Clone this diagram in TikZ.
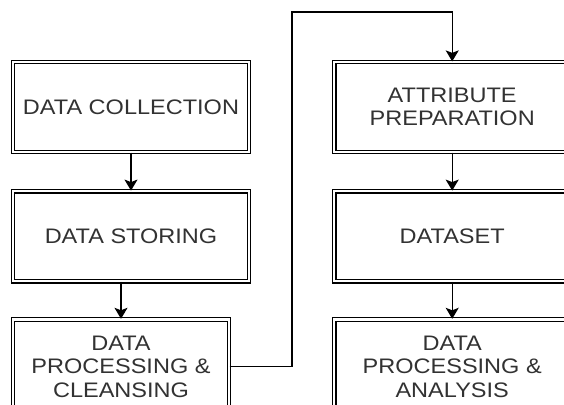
\documentclass[tikz,border=0pt]{standalone}
\usepackage{fontspec}
\newfontfamily\boxfont[FakeStretch=1.12]{Liberation Sans}
\definecolor{textgray}{RGB}{50, 50, 50}
\usepackage{tikz}
\usetikzlibrary{arrows.meta, positioning}

\begin{document}
\begin{tikzpicture}[
            b/.style={draw=black, double=white, double distance=2.4pt, line width=1.2pt,
                      text=textgray, align=center, font=\boxfont\fontsize{21}{23.5}\selectfont,
                      minimum width=236pt, minimum height=90pt, inner sep=2pt},
            a/.style={-{Stealth[length=11pt, width=13pt, inset=2.5pt]}, line width=1.3pt}
          ]
          \useasboundingbox (0,0) rectangle (564pt,-404pt);
          \fill[white] (0,0) rectangle (564pt,-404pt);
          \clip (0,0) rectangle (564pt,-404pt);
          \node[b] (dc) at (131pt,-107pt) {DATA COLLECTION};
          \node[b] (ds) [below=38pt of dc] {DATA STORING};
          \node[b, minimum width=216pt, minimum height=94pt] (dp) [below=37pt of ds.south west, anchor=north west] {DATA\\PROCESSING \&\\CLEANSING};
          \node[b] (ap) [right=84pt of dc] {ATTRIBUTE\\PREPARATION};
          \node[b] (dset) [below=38pt of ap] {DATASET};
          \node[b, minimum height=94pt] (da) [below=37pt of dset] {DATA\\PROCESSING \&\\ANALYSIS};
          \coordinate (turn) at (292pt,-12pt);
          \draw[a](dc)--(ds);\draw[a](ds.south-|dp.north)--(dp);
          \draw[a](ap)--(dset);\draw[a](dset)--(da);
          \draw[a](dp.east) -| (turn) -| (ap.north);
        \end{tikzpicture}
\end{document}
